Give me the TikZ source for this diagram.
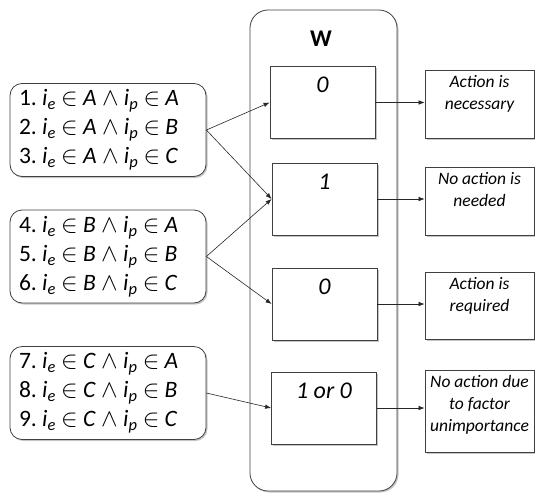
\documentclass[tikz,border=0pt]{standalone}
\usepackage{amsmath,amssymb}
\usepackage{fontspec}
\setmainfont{Carlito}
\usetikzlibrary{arrows.meta,shadows}

\newcommand{\condrow}[3]{#1.\ \textit{i}\textsubscript{\textit{e}}\ $\in$\ \textit{#2}\ $\wedge$\ \textit{i}\textsubscript{\textit{p}}\ $\in$\ \textit{#3}}

\tikzset{
  shade/.style={drop shadow={shadow xshift=1.5pt,shadow yshift=-1.5pt,opacity=.45}},
  condbox/.style={draw=black!75,thick,rounded corners=12pt,fill=white,shade,
    text width=178pt,inner xsep=9pt,minimum height=93pt,align=flush left,
    font=\fontsize{23.5}{29}\selectfont},
  wbox/.style={draw=black!75,thick,fill=white,shade,minimum width=105pt,minimum height=72pt},
  wnum/.style={anchor=north,inner sep=5pt,yshift=-6pt,font=\fontsize{24}{28}\selectfont\itshape},
  resbox/.style={draw=black!75,thick,fill=white,shade,minimum width=109pt},
  restext/.style={anchor=north,align=center,inner sep=2pt,yshift=-4pt,
    font=\fontsize{17.5}{22}\selectfont\itshape},
  link/.style={-{Latex[length=6pt,width=4.5pt]},black!85,semithick}
}

\begin{document}
\begin{tikzpicture}[x=1pt,y=-1pt]
  \useasboundingbox (0,0) rectangle (535,493);

  % W column
  \draw[draw=black!75,thick,rounded corners=18pt,shade,fill=white] (250,10) rectangle (397,491);
  \node[font=\fontsize{24}{28}\selectfont\bfseries] (wtitle) at (321,39) {W};

  \node[wbox,label={[wnum]north:0}] (w1) at (322.5,102.5) {};
  \node[wbox,label={[wnum]north:1}] (w2) at (324.5,199) {};
  \node[wbox,label={[wnum]north:0}] (w3) at (324.5,304) {};
  \node[wbox,label={[wnum]north:1 or 0}] (w4) at (324,408) {};

  % conditions
  \node[condbox] (c1) at (108,130) {\condrow{1}{A}{A}\\ \condrow{2}{A}{B}\\ \condrow{3}{A}{C}};
  \node[condbox] (c2) at (108,256.5) {\condrow{4}{B}{A}\\ \condrow{5}{B}{B}\\ \condrow{6}{B}{C}};
  \node[condbox] (c3) at (108,393) {\condrow{7}{C}{A}\\ \condrow{8}{C}{B}\\ \condrow{9}{C}{C}};

  % results
  \node[resbox,minimum height=68pt,label={[restext]north:Action is\\ necessary}] (r1) at (479.5,104) {};
  \node[resbox,minimum height=68pt,label={[restext]north:No action is\\ needed}] (r2) at (479.5,201) {};
  \node[resbox,minimum height=67pt,label={[restext]north:Action is\\ required}] (r3) at (479.5,305.5) {};
  \node[resbox,minimum height=82pt,label={[restext]north:No action due\\ to factor\\ unimportance}] (r4) at (479.5,411) {};

  \draw[link] (c1.east) -- (w1.west);
  \draw[link] (c1.east) -- (w2.west);
  \draw[link] (c2.east) -- (w2.west);
  \draw[link] (c2.east) -- (w3.west);
  \draw[link] (c3.east) -- (w4.west);

  \draw[link] (w1.east) -- (w1.east -| r1.west);
  \draw[link] (w2.east) -- (w2.east -| r2.west);
  \draw[link] (w3.east) -- (w3.east -| r3.west);
  \draw[link] (w4.east) -- (w4.east -| r4.west);
\end{tikzpicture}
\end{document}
